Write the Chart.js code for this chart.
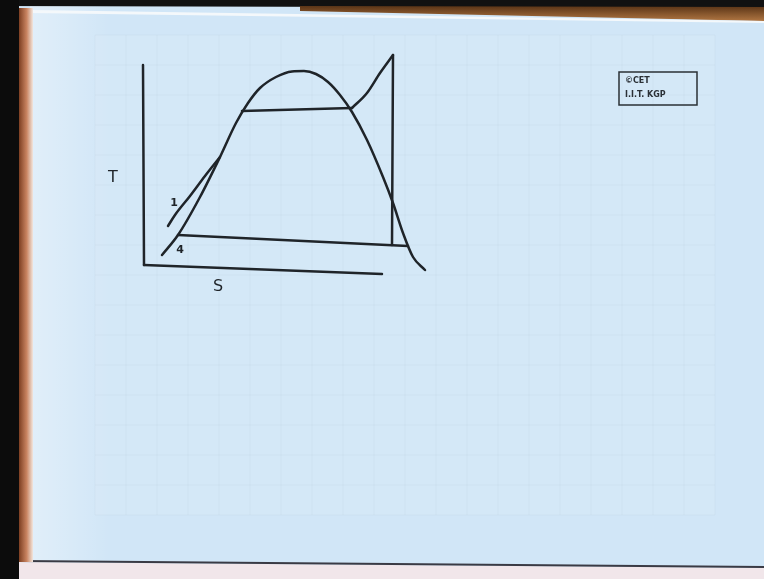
<!DOCTYPE html>
<html>
<head>
<meta charset="utf-8">
<title>T-s diagram</title>
<script src="https://cdn.jsdelivr.net/npm/chart.js@4"></script>
<style>
  html, body { margin: 0; padding: 0; background: #d1e6f7; }
  canvas { display: block; }
</style>
</head>
<body>
<canvas id="chart" width="764" height="579"></canvas>
<script>
// entropy s / temperature T, arbitrary units, origin where the axes meet
const domeS = [9, 17, 28, 38, 46, 52, 58, 66, 74, 80, 86, 92, 98, 104, 111.5, 119.5, 124.5, 129.5, 134.5, 140.5];
const domeT = [5, 15, 34, 54, 71, 81, 88.5, 94, 96.8, 97, 95.5, 91.5, 85, 76.5, 62.5, 44, 31, 16, 4, -2.5];

// feed line from state 1 up to the saturated-liquid line
const feedS = [12, 15.5, 23, 30.5, 38];
const feedT = [19.5, 25, 34.5, 44.5, 54];

// boiling (constant T) and superheating
const boilS = [49, 104];
const boilT = [77, 78.5];
const superS = [104, 111.5, 118, 124.5];
const superT = [78.5, 86, 96, 105];

// expansion (near-vertical) and condensation
const expandS = [124.5, 124];
const expandT = [105, 10];
const condS = [17, 132];
const condT = [15, 9.5];

// hand-drawn axes
const axisTS = [-0.5, 0];
const axisTT = [100, 0];
const axisSS = [0, 119];
const axisST = [0, -4.5];

const pts = (xs, ys) => xs.map((x, i) => ({x, y: ys[i]}));

function stroke(label, xs, ys, smooth) {
  return {
    label,
    data: pts(xs, ys),
    showLine: true,
    borderColor: '#1f2429',
    borderWidth: 2.5,
    pointRadius: 0,
    cubicInterpolationMode: smooth ? 'monotone' : 'default',
    tension: 0,
    borderCapStyle: 'round',
    borderJoinStyle: 'round'
  };
}

const paper = {
  id: 'paper',
  beforeDraw(chart) {
    const c = chart.ctx;
    const W = chart.width, H = chart.height;
    c.save();
    c.fillStyle = '#d1e6f7';
    c.fillRect(0, 0, W, H);
    // a little lighter near the left of the sheet
    const sh = c.createLinearGradient(30, 0, 110, 0);
    sh.addColorStop(0, 'rgba(255,255,255,0.35)'); sh.addColorStop(1, 'rgba(255,255,255,0)');
    c.fillStyle = sh;
    c.fillRect(30, 0, 80, H);
    // faint squared ruling on the sheet
    c.fillStyle = 'rgba(255,255,255,0.08)';
    c.fillRect(95, 35, 620, 480);
    c.strokeStyle = 'rgba(160,185,210,0.10)';
    c.lineWidth = 1;
    for (let x = 95; x <= 715; x += 31) { c.beginPath(); c.moveTo(x, 35); c.lineTo(x, 515); c.stroke(); }
    for (let y = 35; y <= 515; y += 30) { c.beginPath(); c.moveTo(95, y); c.lineTo(715, y); c.stroke(); }
    // below the sheet
    c.fillStyle = '#f1e6ea';
    c.beginPath(); c.moveTo(0, 562); c.lineTo(W, 568); c.lineTo(W, H); c.lineTo(0, H); c.fill();
    c.strokeStyle = '#3a3a44'; c.lineWidth = 2;
    c.beginPath(); c.moveTo(20, 561); c.lineTo(W, 567); c.stroke();
    // top edge
    c.fillStyle = '#111';
    c.beginPath(); c.moveTo(0, 0); c.lineTo(W, 0); c.lineTo(W, 8); c.lineTo(0, 6); c.fill();
    const g = c.createLinearGradient(0, 6, 0, 22);
    g.addColorStop(0, '#5a3416'); g.addColorStop(1, '#b57a45');
    c.fillStyle = g;
    c.beginPath(); c.moveTo(300, 6); c.lineTo(W, 7); c.lineTo(W, 21); c.lineTo(300, 11); c.fill();
    c.fillStyle = '#f4f8fb';
    c.beginPath(); c.moveTo(30, 10); c.lineTo(W, 21); c.lineTo(W, 23); c.lineTo(30, 13); c.fill();
    // left edge
    c.fillStyle = '#0c0c0c';
    c.fillRect(0, 0, 19, H);
    const lg = c.createLinearGradient(19, 0, 33, 0);
    lg.addColorStop(0, '#7d3f22'); lg.addColorStop(0.55, '#c98461'); lg.addColorStop(1, '#f2e6de');
    c.fillStyle = lg;
    c.fillRect(19, 8, 14, 554);
    c.restore();
  },
  afterDatasetsDraw(chart) {
    const c = chart.ctx;
    const xs = chart.scales.x, ys = chart.scales.y;
    const at = (s, t) => [xs.getPixelForValue(s), ys.getPixelForValue(t)];
    c.save();
    c.fillStyle = '#1f2429';
    c.textAlign = 'center';
    c.textBaseline = 'middle';
    c.font = '16px "DejaVu Sans"';
    let p = at(-15.5, 43.5); c.fillText('T', p[0], p[1]);
    p = at(37, -11); c.fillText('S', p[0], p[1]);
    c.font = 'bold 11px "DejaVu Sans"';
    p = at(15, 31); c.fillText('1', p[0], p[1]);
    p = at(18, 7.5); c.fillText('4', p[0], p[1]);
    // stamp box
    c.strokeStyle = '#2a3036'; c.lineWidth = 1.5;
    c.strokeRect(619, 72, 78, 33);
    c.textAlign = 'left';
    c.font = 'bold 8px "DejaVu Sans"';
    c.fillStyle = '#2a3036';
    c.fillText('\u00A9CET', 625, 81);
    c.fillText('I.I.T. KGP', 625, 95);
    c.restore();
  }
};

new Chart(document.getElementById('chart'), {
  type: 'scatter',
  data: {
    datasets: [
      stroke('T axis', axisTS, axisTT),
      stroke('s axis', axisSS, axisST),
      stroke('saturation dome', domeS, domeT, true),
      stroke('1 to liquid line', feedS, feedT, true),
      stroke('boiling', boilS, boilT),
      stroke('superheat', superS, superT, true),
      stroke('expansion', expandS, expandT),
      stroke('condensation', condS, condT)
    ]
  },
  options: {
    responsive: false,
    animation: false,
    layout: { padding: 0 },
    plugins: { legend: { display: false }, tooltip: { enabled: false } },
    scales: {
      x: { type: 'linear', min: -72, max: 310, display: false },
      y: { type: 'linear', min: -157, max: 132.5, display: false }
    }
  },
  plugins: [paper]
});
</script>
</body>
</html>
